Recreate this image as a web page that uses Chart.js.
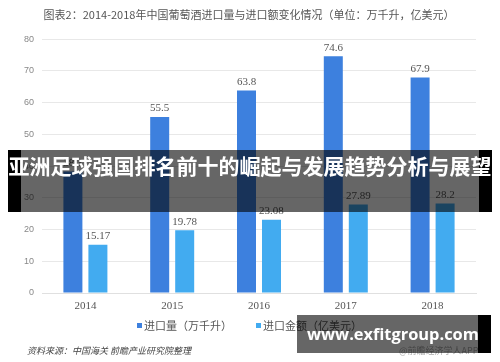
<!DOCTYPE html>
<html><head><meta charset="utf-8">
<script src="https://cdn.jsdelivr.net/npm/chart.js@4.4.0/dist/chart.umd.min.js"></script>
<style>
html,body{margin:0;padding:0;background:#fff;}
#wrap{position:relative;width:500px;height:362px;overflow:hidden;}
#c{position:absolute;left:0;top:0;}
.src{position:absolute;left:27px;top:344px;font:italic 9px "Noto Sans CJK SC";color:#444;white-space:nowrap;}
.app{position:absolute;left:399px;top:344px;font:9px "Noto Sans CJK SC";color:#aaa;white-space:nowrap;}
.band{position:absolute;left:8px;top:150px;width:484px;height:62px;background:rgba(0,0,0,0.6);}
.band .el{position:absolute;top:0;width:13px;height:62px;background:#000;}
.band .txt{position:absolute;left:0;top:0;width:484px;height:62px;line-height:62px;text-align:center;color:#fff;font:bold 21px "Noto Sans CJK SC";white-space:nowrap;}
.wm{position:absolute;left:297px;top:315px;width:194px;height:38px;background:rgba(0,0,0,0.6);}
.wm .er{position:absolute;right:0;top:0;width:13px;height:38px;background:#000;}
.wm .txt{position:absolute;left:10px;top:0;line-height:38px;color:#fff;font-weight:bold;font-family:"Open Sans";white-space:nowrap;}
</style></head>
<body><div id="wrap"><canvas id="c" width="500" height="362"></canvas>
<div class="src">资料来源：中国海关 前瞻产业研究院整理</div>
<div class="app">@前瞻经济学人APP</div>
<div class="band"><div class="el" style="left:0"></div><div class="el" style="right:0"></div><div class="txt">亚洲足球强国排名前十的崛起与发展趋势分析与展望</div></div>
<div class="wm"><div class="er"></div><div class="txt" id="wmt">www.exfitgroup.com</div></div>
</div>
<script>
const categories = ["2014","2015","2016","2017","2018"];
const importVolume = [38.3, 55.5, 63.8, 74.6, 67.9];
const importValue = [15.17, 19.78, 23.08, 27.89, 28.2];
const valueLabels1 = ["38.3","55.5","63.8","74.6","67.9"];
const valueLabels2 = ["15.17","19.78","23.08","27.89","28.2"];
const seriesNames = ["进口量（万千升）","进口金额（亿美元）"];
const titleText = "图表2：2014-2018年中国葡萄酒进口量与进口额变化情况（单位：万千升，亿美元）";

// fit watermark text width
(function(){
  const el = document.getElementById('wmt');
  const cv = document.createElement('canvas').getContext('2d');
  cv.font = 'bold 20px "Open Sans"';
  const w = cv.measureText(el.textContent).width;
  el.style.fontSize = (20*172/w).toFixed(2)+'px';
})();

const labelPlugin = {
  id:'vals',
  afterDatasetsDraw(chart){
    const ctx = chart.ctx;
    const lbls = [valueLabels1, valueLabels2];
    chart.data.datasets.forEach((ds,i)=>{
      const meta = chart.getDatasetMeta(i);
      meta.data.forEach((bar,j)=>{
        ctx.save();
        ctx.font = '11px "Liberation Serif"';
        ctx.fillStyle = '#555';
        ctx.textAlign='center';
        ctx.textBaseline='bottom';
        ctx.fillText(lbls[i][j], bar.x, bar.y-3);
        ctx.restore();
      });
    });
  }
};

const legendPlugin = {
  id:'customLegend',
  afterDraw(chart){
    const ctx = chart.ctx;
    const xs = [137, 256];
    const y = 326;
    chart.data.datasets.forEach((ds,i)=>{
      ctx.save();
      ctx.fillStyle = ds.backgroundColor;
      ctx.fillRect(xs[i], y-3, 5, 5);
      ctx.font = '11px "Noto Sans CJK SC"';
      ctx.fillStyle = '#555';
      ctx.textBaseline = 'middle';
      ctx.textAlign = 'left';
      ctx.fillText(ds.label, xs[i]+7, y);
      ctx.restore();
    });
  }
};

new Chart(document.getElementById('c'),{
  type:'bar',
  data:{labels:categories,datasets:[
    {label:seriesNames[0],data:importVolume,backgroundColor:'#3d80de',barPercentage:0.76,categoryPercentage:0.576},
    {label:seriesNames[1],data:importValue,backgroundColor:'#42abf0',barPercentage:0.76,categoryPercentage:0.576}
  ]},
  options:{
    responsive:false,animation:false,
    layout:{padding:{left:22,right:24,top:0,bottom:49}},
    plugins:{
      title:{display:true,text:titleText,font:{size:11,family:'"Noto Sans CJK SC"',weight:'normal'},color:'#555',padding:{top:8,bottom:18}},
      legend:{display:false},
      tooltip:{enabled:false}
    },
    scales:{
      y:{min:0,max:80,ticks:{stepSize:10,font:{size:9,family:'"Liberation Sans"'},color:'#888',padding:8},
         grid:{color:'#e8e8e8',drawTicks:false},border:{display:false},
         afterFit(s){s.width=20;}},
      x:{grid:{display:false,drawTicks:false},border:{color:'#e0e0e0'},ticks:{font:{size:11,family:'"Liberation Serif"'},color:'#555',padding:7},
         afterFit(s){s.height=20;}}
    }
  },
  plugins:[labelPlugin, legendPlugin]
});
</script></body></html>
